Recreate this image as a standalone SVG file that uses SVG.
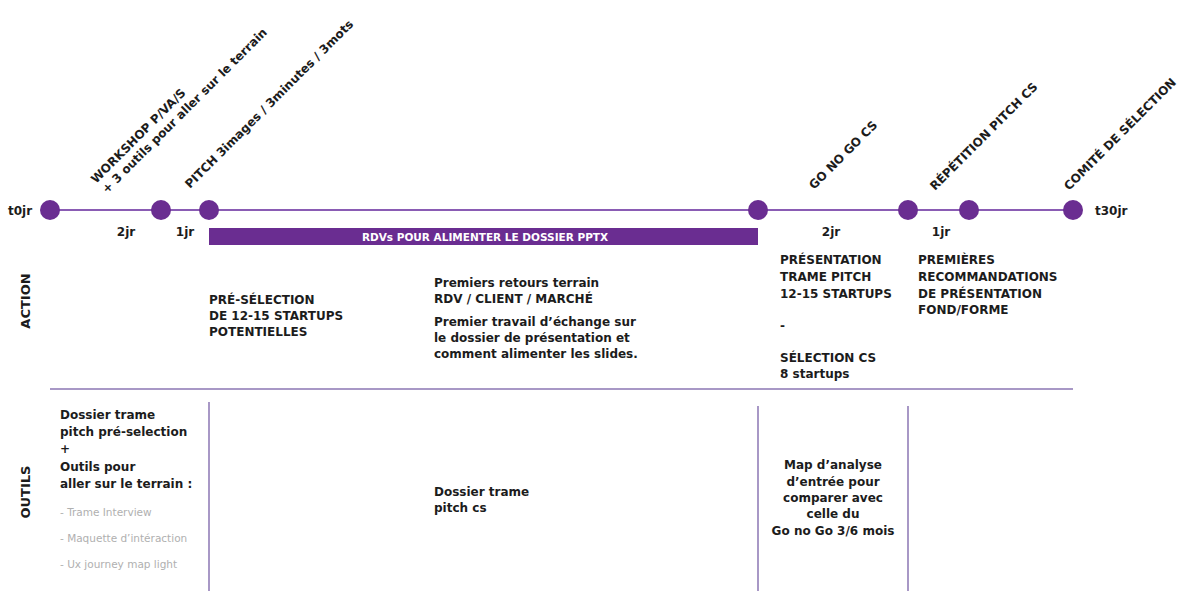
<svg xmlns="http://www.w3.org/2000/svg" width="1189" height="591" viewBox="0 0 1189 591">
<style>
  text { font-family: "DejaVu Sans", "Liberation Sans", sans-serif; fill: #1c1c1c; }
  .b { font-weight: bold; font-size: 12px; }
  .lbl { font-weight: bold; font-size: 12px; }
  .side { font-weight: bold; font-size: 13px; }
  .grey { font-size: 10.5px; fill: #b0b0b0; }
  .dot { fill: #6a2d91; }
  .tl { stroke: #8a5cb4; stroke-width: 2; fill: none; }
  .sep { stroke: #a898c6; stroke-width: 2; fill: none; }
  .bar { fill: #6a2d91; }
  .bartext { font-weight: bold; font-size: 10.5px; fill: #ffffff; }
</style>
<rect width="1189" height="591" fill="#ffffff"/>

<g id="connectors">
  <line class="tl" x1="50" y1="210" x2="1073" y2="210"/>
  <line class="sep" x1="50" y1="389" x2="1073" y2="389"/>
  <line class="sep" x1="209" y1="402" x2="209" y2="591"/>
  <line class="sep" x1="758" y1="406" x2="758" y2="591"/>
  <line class="sep" x1="908" y1="406" x2="908" y2="591"/>
</g>

<g id="start">
  <circle class="dot" cx="50" cy="210" r="10"/>
  <text class="b" x="8" y="215" font-size="13">t0jr</text>
</g>
<g id="workshop">
  <circle class="dot" cx="161" cy="210" r="10"/>
  <text class="lbl" transform="translate(96,184) rotate(-45)">WORKSHOP P/VA/S</text>
  <text class="lbl" font-size="12.6" transform="translate(107,194) rotate(-45)">+ 3 outils pour aller sur le terrain</text>
</g>
<g id="pitch">
  <circle class="dot" cx="209" cy="210" r="10"/>
  <text class="lbl" font-size="12.6" transform="translate(190,189) rotate(-45)">PITCH 3images / 3minutes / 3mots</text>
</g>
<g id="gonogo">
  <circle class="dot" cx="758" cy="210" r="10"/>
  <text class="lbl" transform="translate(814,190) rotate(-45)">GO NO GO CS</text>
</g>
<g id="repetition-start">
  <circle class="dot" cx="908" cy="210" r="10"/>
</g>
<g id="repetition">
  <circle class="dot" cx="969" cy="210" r="10"/>
  <text class="lbl" font-size="12.3" transform="translate(935,191) rotate(-45)">RÉPÉTITION PITCH CS</text>
</g>
<g id="comite">
  <circle class="dot" cx="1073" cy="210" r="10"/>
  <text class="lbl" transform="translate(1069,191) rotate(-45)">COMITÉ DE SÉLECTION</text>
  <text class="b" x="1095" y="215" font-size="13">t30jr</text>
</g>

<g id="durations">
  <text class="b" x="126" y="236" text-anchor="middle">2jr</text>
  <text class="b" x="185" y="236" text-anchor="middle">1jr</text>
  <text class="b" x="831" y="236" text-anchor="middle">2jr</text>
  <text class="b" x="941" y="236" text-anchor="middle">1jr</text>
</g>

<g id="rdv-bar">
  <rect class="bar" x="209" y="228" width="549" height="17"/>
  <text class="bartext" x="485" y="240.5" text-anchor="middle">RDVs POUR ALIMENTER LE DOSSIER PPTX</text>
</g>

<g id="row-labels">
  <text class="side" transform="translate(30,301) rotate(-90)" text-anchor="middle">ACTION</text>
  <text class="side" transform="translate(30,492) rotate(-90)" text-anchor="middle">OUTILS</text>
</g>

<g id="action-preselection">
  <text class="b" x="209" y="304">PRÉ-SÉLECTION</text>
  <text class="b" x="209" y="320">DE 12-15 STARTUPS</text>
  <text class="b" x="209" y="336">POTENTIELLES</text>
</g>
<g id="action-retours">
  <text class="b" x="434" y="287">Premiers retours terrain</text>
  <text class="b" x="434" y="303">RDV / CLIENT / MARCHÉ</text>
  <text class="b" x="434" y="326">Premier travail d’échange sur</text>
  <text class="b" x="434" y="342">le dossier de présentation et</text>
  <text class="b" x="434" y="358">comment alimenter les slides.</text>
</g>
<g id="action-presentation">
  <text class="b" x="780" y="264">PRÉSENTATION</text>
  <text class="b" x="780" y="281">TRAME PITCH</text>
  <text class="b" x="780" y="298">12-15 STARTUPS</text>
  <text class="b" x="780" y="330">-</text>
  <text class="b" x="780" y="362">SÉLECTION CS</text>
  <text class="b" x="780" y="378">8 startups</text>
</g>
<g id="action-recommandations">
  <text class="b" x="918" y="264">PREMIÈRES</text>
  <text class="b" x="918" y="281">RECOMMANDATIONS</text>
  <text class="b" x="918" y="298">DE PRÉSENTATION</text>
  <text class="b" x="918" y="314">FOND/FORME</text>
</g>

<g id="outils-preselection">
  <text class="b" x="60" y="419">Dossier trame</text>
  <text class="b" x="60" y="436">pitch pré-selection</text>
  <text class="b" x="60" y="453">+</text>
  <text class="b" x="60" y="471">Outils pour</text>
  <text class="b" x="60" y="488">aller sur le terrain :</text>
  <text class="grey" x="60" y="516">- Trame Interview</text>
  <text class="grey" x="60" y="542">- Maquette d’intéraction</text>
  <text class="grey" x="60" y="568">- Ux journey map light</text>
</g>
<g id="outils-pitch-cs">
  <text class="b" x="434" y="496">Dossier trame</text>
  <text class="b" x="434" y="512">pitch cs</text>
</g>
<g id="outils-map">
  <text class="b" x="833" y="469" text-anchor="middle">Map d’analyse</text>
  <text class="b" x="833" y="486" text-anchor="middle">d’entrée pour</text>
  <text class="b" x="833" y="502" text-anchor="middle">comparer avec</text>
  <text class="b" x="833" y="518" text-anchor="middle">celle du</text>
  <text class="b" x="833" y="535" text-anchor="middle">Go no Go 3/6 mois</text>
</g>
</svg>
